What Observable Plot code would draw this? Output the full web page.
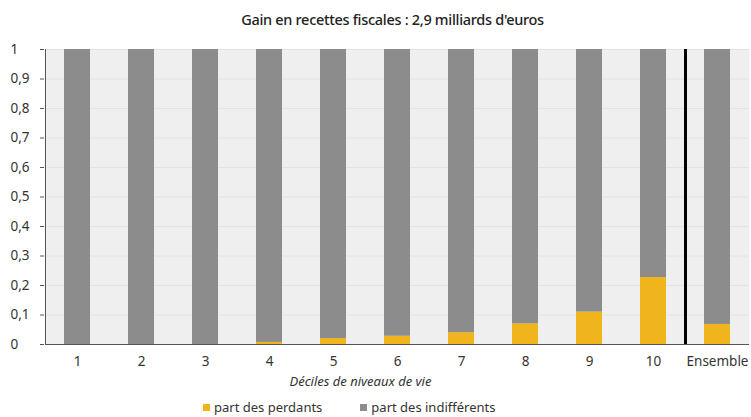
<!DOCTYPE html>
<html><head><meta charset="utf-8">
<script src="https://cdn.jsdelivr.net/npm/d3@7"></script>
<script src="https://cdn.jsdelivr.net/npm/@observablehq/plot@0.6"></script>
<style>
body{margin:0;background:#fff;width:751px;height:417px;position:relative;overflow:hidden;font-family:"Noto Sans",sans-serif;color:#222}
#title{position:absolute;top:9px;left:0;width:751px;text-align:center;font-size:14.5px;padding-left:34px;box-sizing:border-box;font-weight:500;letter-spacing:-0.3px}
#chart{position:absolute;top:38px;left:0}
#xlabel{position:absolute;top:372px;left:0;width:751px;text-align:center;padding-right:30px;box-sizing:border-box;font-size:13px;font-style:italic;color:#333}
#legend{position:absolute;top:398px;left:203px;font-size:13px;color:#333;display:flex;gap:0}
.item{display:flex;align-items:center;margin-right:38px}
.sw{width:7px;height:7px;display:inline-block;margin-right:4px}
</style></head><body>
<div id="title">Gain en recettes fiscales : 2,9 milliards d'euros</div>
<div id="chart"></div>
<div id="xlabel">Déciles de niveaux de vie</div>
<div id="legend"></div>
<script>
const deciles = ["1","2","3","4","5","6","7","8","9","10","Ensemble"];
const partPerdants = [0, 0, 0, 0.007, 0.02, 0.028, 0.04, 0.07, 0.11, 0.227, 0.068];
const partIndifferents = [1, 1, 1, 0.993, 0.98, 0.972, 0.96, 0.93, 0.89, 0.773, 0.932];
const seriesNames = ["part des perdants", "part des indifférents"];
const seriesColors = ["#f0b41c", "#8c8c8c"];
const yTicks = [0, 0.1, 0.2, 0.3, 0.4, 0.5, 0.6, 0.7, 0.8, 0.9, 1];
const separatorBefore = ["Ensemble"];

const rows = [];
deciles.forEach((d, i) => {
  rows.push({decile: d, serie: seriesNames[0], value: partPerdants[i]});
  rows.push({decile: d, serie: seriesNames[1], value: partIndifferents[i]});
});

const fmt = v => String(v).replace(".", ",");

const plot = Plot.plot({
  width: 751,
  height: 334,
  marginTop: 11,
  marginBottom: 28,
  marginLeft: 45,
  marginRight: 2,
  style: {fontFamily: "Noto Sans, sans-serif", fontSize: "13.5px", color: "#333", background: "transparent"},
  x: {domain: deciles, paddingInner: 0.6, paddingOuter: 0.3, label: null},
  y: {domain: [0, 1], label: null},
  color: {domain: seriesNames, range: seriesColors},
  marks: [
    Plot.frame({fill: "#efefef", stroke: null}),
    Plot.gridY(yTicks, {stroke: "#e2e2e2", strokeOpacity: 1}),
    Plot.barY(rows, Plot.stackY({order: seriesNames}, {x: "decile", y: "value", fill: "serie"})),
    Plot.ruleX(separatorBefore, {x: d => d, dx: -32, stroke: "#000", strokeWidth: 3}),
    Plot.frame({anchor: "left", stroke: "#555"}),
    Plot.ruleY([0], {stroke: "#555"}),
    Plot.axisY({ticks: yTicks, tickFormat: fmt, tickSize: 4, tickPadding: 30, textAnchor: "start", stroke: "#555", fill: "#333", dx: -1}),
    Plot.axisX({tickSize: 0, tickPadding: 12, fill: "#333"})
  ]
});
document.getElementById("chart").appendChild(plot);

const legend = document.getElementById("legend");
seriesNames.forEach((n, i) => {
  const it = document.createElement("div");
  it.className = "item";
  const sw = document.createElement("span");
  sw.className = "sw";
  sw.style.background = seriesColors[i];
  it.appendChild(sw);
  it.appendChild(document.createTextNode(n));
  legend.appendChild(it);
});
</script>
</body></html>
